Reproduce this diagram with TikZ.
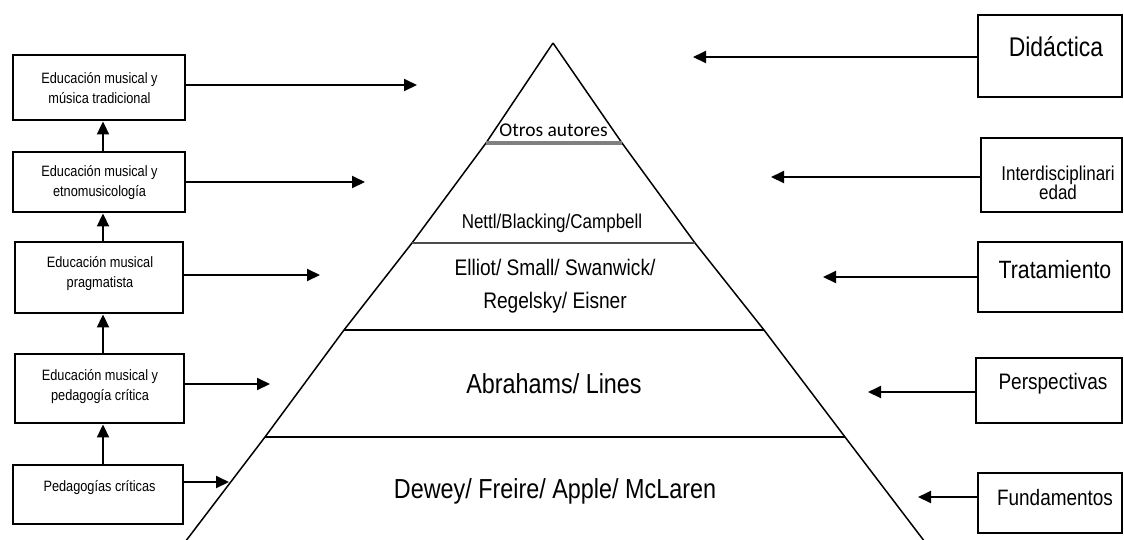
\documentclass[tikz,border=0pt]{standalone}
\usepackage{fontspec}
\setmainfont{Liberation Sans}[FakeStretch=0.85]
\newfontfamily\otrosfont{Carlito}
\usetikzlibrary{arrows.meta}

\tikzset{
  box/.style={draw, line width=2.9pt, inner sep=0pt},
  arr/.style={line width=2pt, -{Triangle[length=13pt,width=12pt]}},
  pyr/.style={line width=1.5pt},
  shelf/.style={line width=1.9pt},
  ltext/.style={align=center, inner sep=0pt, font=\fontsize{15}{20}\selectfont},
  rtext/.style={align=center, inner sep=0pt},
  ptext/.style={align=center, inner sep=0pt},
}

\begin{document}
\begin{tikzpicture}[x=1pt, y=-1pt]
\useasboundingbox (0,0) rectangle (1124,539);

% --- pyramid outline ---
\draw[pyr] (553,43) -- (486,143) -- (412,243) -- (344,330) -- (265,437) -- (182,546);
\draw[pyr] (553,43) -- (622,143) -- (695,243) -- (764,330) -- (845,437) -- (928,546);
\draw[line width=3.5pt, gray] (486,143) -- (622,143);
\draw[line width=2pt, black!70] (412,243) -- (695,243);
\draw[shelf] (344,330) -- (764,330);
\draw[shelf] (265,437) -- (845,437);

% --- pyramid labels ---
\node[ptext, font=\otrosfont\fontsize{19.5}{22}\selectfont] (otros) at (553.5,130) {Otros autores};
\node[ptext, font=\fontsize{20}{24}\selectfont] (nettl) at (552,223) {Nettl/Blacking/Campbell};
\node[ptext, font=\fontsize{22.5}{33}\selectfont] (elliot) at (555,286) {Elliot/ Small/ Swanwick/\\Regelsky/ Eisner};
\node[ptext, font=\fontsize{27.5}{30}\selectfont] (abr) at (554,384) {Abrahams/ Lines};
\node[ptext, font=\fontsize{27.5}{30}\selectfont] (dewey) at (555,491) {Dewey/ Freire/ Apple/ McLaren};

% --- left column of boxes ---
\node[box, minimum width=172pt, minimum height=65pt] (b1) at (99,87.5) {};
\node[box, minimum width=172pt, minimum height=60pt] (b2) at (99,182) {};
\node[box, minimum width=168pt, minimum height=71pt] (b3) at (99,277.5) {};
\node[box, minimum width=169pt, minimum height=69pt] (b4) at (99.5,388.5) {};
\node[box, minimum width=170pt, minimum height=59pt] (b5) at (98,494.5) {};

\node[ltext] (tb1) at (99.5,88.5) {Educación musical y\\música tradicional};
\node[ltext] (tb2) at (99.5,183) {Educación musical y\\etnomusicología};
\node[ltext] (tb3) at (100,274) {Educación musical\\pragmatista};
\node[ltext] (tb4) at (100,387) {Educación musical y\\pedagogía crítica};
\node[ltext] (tb5) at (99.5,488) {Pedagogías críticas};

% upward links between the left boxes
\coordinate (vx) at (103,0);
\draw[arr] (b2.north -| vx) -- (b1.south -| vx);
\draw[arr] (b3.north -| vx) -- (b2.south -| vx);
\draw[arr] (b4.north -| vx) -- (b3.south -| vx);
\draw[arr] (b5.north -| vx) -- (b4.south -| vx);

% arrows towards the pyramid from the left
\coordinate (t1) at (417,85);
\coordinate (t2) at (365,182);
\coordinate (t3) at (320,275);
\coordinate (t4) at (270,384);
\coordinate (t5) at (229,482);
\draw[arr] (b1.east |- t1) -- (t1);
\draw[arr] (b2.east |- t2) -- (t2);
\draw[arr] (b3.east |- t3) -- (t3);
\draw[arr] (b4.east |- t4) -- (t4);
\draw[arr] (b5.east |- t5) -- (t5);

% --- right column of boxes ---
\node[box, minimum width=144pt, minimum height=82pt] (r1) at (1050,56) {};
\node[box, minimum width=141pt, minimum height=74pt] (r2) at (1051.5,175) {};
\node[box, minimum width=144pt, minimum height=70pt] (r3) at (1050,277) {};
\node[box, minimum width=146pt, minimum height=65pt] (r4) at (1049,390.5) {};
\node[box, minimum width=144pt, minimum height=60pt] (r5) at (1050,503) {};

\node[rtext, font=\fontsize{27}{30}\selectfont] (tr1) at (1056,47) {Didáctica};
\node[rtext, font=\fontsize{20}{18}\selectfont] (tr2) at (1058,183) {Interdisciplinari\\edad};
\node[rtext, font=\fontsize{25}{28}\selectfont] (tr3) at (1055,270) {Tratamiento};
\node[rtext, font=\fontsize{22.4}{26}\selectfont] (tr4) at (1053,384) {Perspectivas};
\node[rtext, font=\fontsize{22.3}{26}\selectfont] (tr5) at (1055,498) {Fundamentos};

% arrows towards the pyramid from the right
\coordinate (u1) at (693,57);
\coordinate (u2) at (771,177);
\coordinate (u3) at (823,277);
\coordinate (u4) at (868,392);
\coordinate (u5) at (918,497);
\draw[arr] (r1.west |- u1) -- (u1);
\draw[arr] (r2.west |- u2) -- (u2);
\draw[arr] (r3.west |- u3) -- (u3);
\draw[arr] (r4.west |- u4) -- (u4);
\draw[arr] (r5.west |- u5) -- (u5);
\end{tikzpicture}
\end{document}
